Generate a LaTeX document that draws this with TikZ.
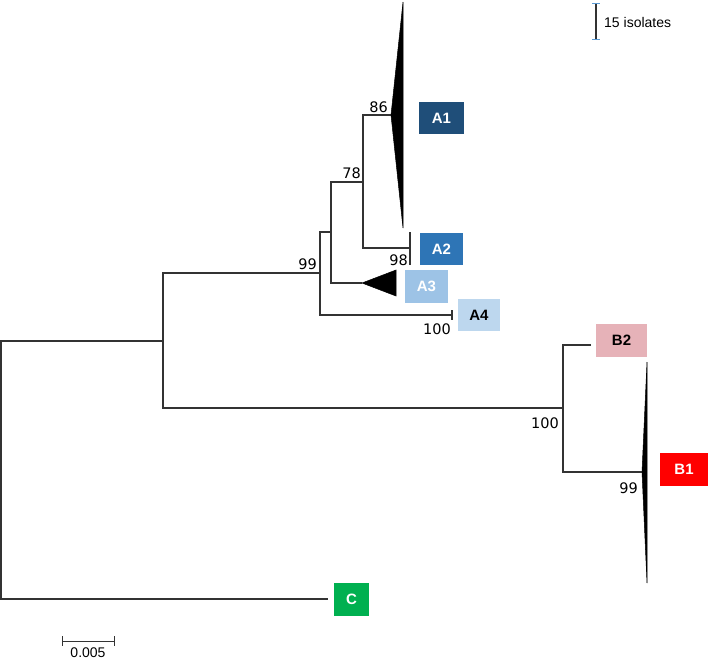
\documentclass[tikz,border=0pt]{standalone}
\usepackage{fontspec}
\setmainfont{Liberation Sans}
\newfontfamily\bootfont{DejaVu Sans}
\usetikzlibrary{positioning,calc}
\definecolor{clAa}{RGB}{31,78,121}
\definecolor{clAb}{RGB}{46,117,182}
\definecolor{clAc}{RGB}{157,195,230}
\definecolor{clAd}{RGB}{189,215,238}
\definecolor{clBb}{RGB}{230,178,184}
\definecolor{clBa}{RGB}{255,0,0}
\definecolor{clC}{RGB}{0,176,80}
\definecolor{capblue}{RGB}{91,155,213}
\tikzset{
    branch/.style={draw=black!80,line width=1.1pt},
    clade/.style={fill=black,draw=black,line width=.5pt},
    tag/.style={
        fill=#1,inner sep=0pt,minimum width=43pt,minimum height=32pt,
        font=\bfseries\fontsize{15}{15}\selectfont,text=white
    },
    tag/.default=clAa,
    boot/.style={anchor=base east,inner sep=0pt,font=\bootfont\fontsize{14.5}{14.5}\selectfont}
}
\begin{document}
\begin{tikzpicture}[x=1pt,y=-1pt]
\useasboundingbox (0,0) rectangle (709,665);

% inner nodes
\coordinate (root) at (1,470);
\coordinate (n1) at (163,341);
\coordinate (n99) at (320,273);
\coordinate (n78) at (331,232);
\coordinate (n86) at (363,182);
\coordinate (nB) at (563,408);

% tips
\coordinate (a1tip) at (391,115);
\coordinate (a2tip) at (410,248);
\coordinate (a3tip) at (362,283);
\coordinate (a4tip) at (452,315);
\coordinate (b2tip) at (591,345);
\coordinate (b1tip) at (642,472);
\coordinate (ctip) at (328,599);

% branches
\draw[branch] (n1) -| (root) |- (ctip);
\draw[branch] (n99) -| (n1) |- (nB);
\draw[branch] (n78) -| (n99) |- (a4tip);
\draw[branch] (n86) -| (n78) |- (a3tip);
\draw[branch] (a1tip) -| (n86) |- (a2tip);
\draw[branch] (b2tip) -| (nB) |- (b1tip);

% collapsed clades
\fill[clade] (a1tip) -- (403,2) -- (403,228) -- cycle;
\fill[clade] (a3tip) -- (396,270) -- (396,296) -- cycle;
\fill[clade] (b1tip) -- (647,362) -- (647,583) -- cycle;
\draw[branch] ($(a2tip)+(0,-16)$) -- ($(a2tip)+(0,17)$);
\draw[branch] ($(a4tip)+(0,-5)$) -- ($(a4tip)+(0,5)$);

% bootstrap values
\node[boot] (bs86) at (388,112) {86};
\node[boot] (bs78) at (361,178) {78};
\node[boot] (bs99a) at (317,269) {99};
\node[boot] (bs98) at (408,265) {98};
\node[boot] (bs100a) at (451,334) {100};
\node[boot] (bs100b) at (559,428) {100};
\node[boot] (bs99b) at (638,493) {99};

% clade tags
\node[tag=clAa,minimum width=45pt] (A1) at (441.5,118) {A1};
\node[tag=clAb] (A2) at (441.5,249) {A2};
\node[tag=clAc,minimum height=33pt] (A3) at (426.5,286.5) {A3};
\node[tag=clAd,minimum width=42pt,text=black] (A4) at (479,315) {A4};
\node[tag=clBb,minimum width=51pt,minimum height=33pt,text=black] (B2) at (621.5,340.5) {B2};
\node[tag=clBa,minimum width=48pt,minimum height=33pt] (B1) at (684,469.5) {B1};
\node[tag=clC,minimum width=35pt,minimum height=33pt] (C) at (351.5,599.5) {C};

% scale bars
\coordinate (sbl) at (62,641);
\coordinate (sbr) at (114,641);
\draw[branch,line width=1pt] (sbl) -- (sbr);
\draw[branch,line width=1pt] ($(sbl)+(0,-5)$) -- ($(sbl)+(0,5)$);
\draw[branch,line width=1pt] ($(sbr)+(0,-5)$) -- ($(sbr)+(0,5)$);
\node[font=\fontsize{14}{14}\selectfont,anchor=north,inner sep=0pt] (dist) at ($(sbl)!.5!(sbr)+(0,7)$) {0.005};

\coordinate (ist) at (596,3);
\coordinate (isb) at (596,39);
\draw[black!80,line width=1.1pt] (ist) -- (isb);
\draw[capblue,line width=1pt] ($(ist)+(-4,0)$) -- ($(ist)+(4,0)$);
\draw[capblue,line width=1pt] ($(isb)+(-4,0)$) -- ($(isb)+(4,0)$);
\node[font=\fontsize{14}{14}\selectfont,anchor=west,inner sep=0pt] (iso) at (604,22) {15 isolates};

\end{tikzpicture}
\end{document}
